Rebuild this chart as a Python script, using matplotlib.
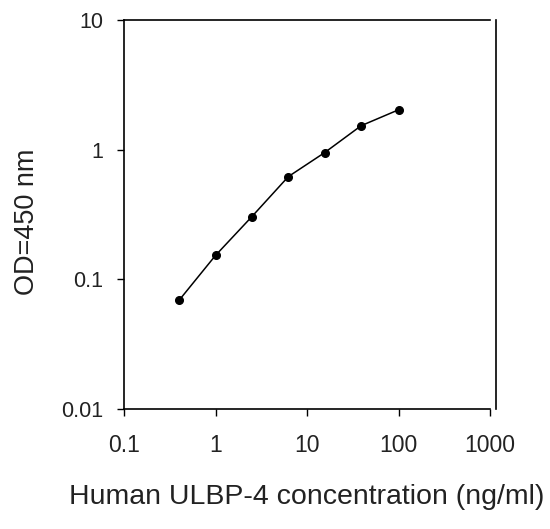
import matplotlib
matplotlib.use("Agg")
import matplotlib.pyplot as plt

# Standard curve data
conc = [0.4, 1, 2.5, 6.25, 15.6, 39, 100]
od = [0.069, 0.153, 0.305, 0.62, 0.95, 1.53, 2.03]

x_ticks = [0.1, 1, 10, 100, 1000]
x_labels = ["0.1", "1", "10", "100", "1000"]
y_ticks = [0.01, 0.1, 1, 10]
y_labels = ["0.01", "0.1", "1", "10"]

plt.rcParams['font.family'] = ['Liberation Sans', 'DejaVu Sans']

fig = plt.figure(figsize=(5.5, 5.29), dpi=100)
ax = fig.add_axes([0.2255, 0.2268, 0.6655, 0.7354])

ax.plot(conc, od, color='black', linewidth=1.1, marker='o', markersize=5.5)

ax.set_xscale('log')
ax.set_yscale('log')
ax.set_xlim(0.1, 1000)
ax.set_ylim(0.01, 10)
ax.set_xticks(x_ticks)
ax.set_xticklabels(x_labels)
ax.set_yticks(y_ticks)
ax.set_yticklabels(y_labels)
ax.minorticks_off()
ax.tick_params(axis='both', direction='out', length=5, width=1, colors='black', labelcolor='#222222')
ax.tick_params(axis='x', pad=13, labelsize=16.5)
ax.tick_params(axis='y', pad=10, labelsize=15.5)

for s in ax.spines.values():
    s.set_linewidth(1.2)
ax.spines['right'].set_position(('outward', 4))

ax.set_xlabel("Human ULBP-4 concentration (ng/ml)", fontsize=20.5, va='center', color='#222222')
ax.set_ylabel("OD=450 nm", fontsize=19.5, va='center', color='#222222')
ax.xaxis.set_label_coords(0.5, -0.226)
ax.yaxis.set_label_coords(-0.265, 0.48)

fig.savefig("out.png", dpi=100)
